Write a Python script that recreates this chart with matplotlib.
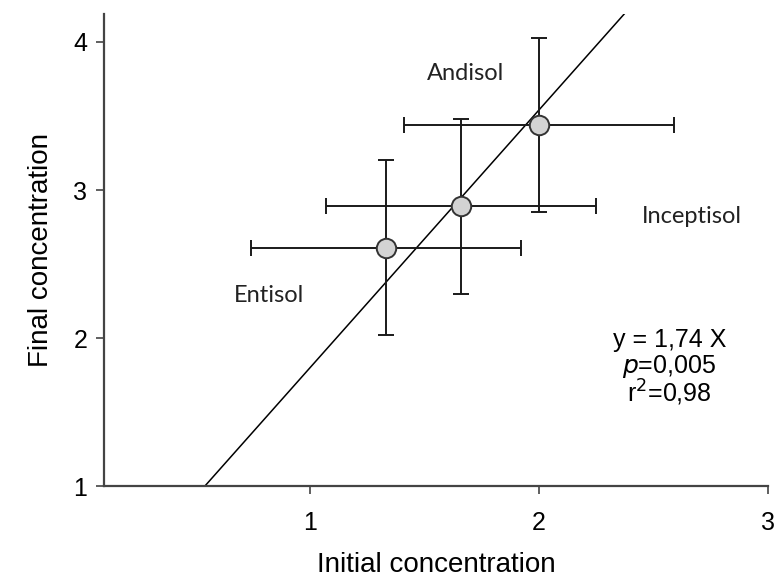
import numpy as np
import matplotlib
matplotlib.use('Agg')
import matplotlib.pyplot as plt

# Dados
soils = ['Entisol', 'Inceptisol', 'Andisol']
initial = [1.33, 1.66, 2.0]
final = [2.61, 2.89, 3.44]
initial_err = [0.59, 0.59, 0.59]
final_err = [0.59, 0.59, 0.59]

# Reta ajustada (como desenhada na figura)
slope = 1.74
intercept = 0.06
line_x = np.array([0.1, 3.0])

x_ticks = [1, 2, 3]
y_ticks = [1, 2, 3, 4]

plt.rcParams['font.family'] = ['Liberation Sans', 'DejaVu Sans']

fig = plt.figure(figsize=(7.77, 5.78), dpi=100)
ax = fig.add_axes([0.134, 0.159, 0.854, 0.817])

ax.plot(line_x, slope * line_x + intercept, color='black', lw=1.1, zorder=2)
ax.errorbar(initial, final, xerr=initial_err, yerr=final_err, fmt='o',
            color='#1a1a1a', ecolor='#1a1a1a', elinewidth=1.4, capsize=6,
            capthick=1.4, markersize=14, markerfacecolor='#d3d3d3',
            markeredgecolor='#333333', markeredgewidth=1.4, zorder=3)

ax.set_xlim(0.1, 3.0)
ax.set_ylim(1, 4.19)
ax.set_xticks(x_ticks)
ax.set_yticks(y_ticks)
ax.tick_params(labelsize=18, length=6, width=1.2, color='#444444', pad=12)
ax.tick_params(axis='y', pad=6)
for s in ['top', 'right']:
    ax.spines[s].set_visible(False)
for s in ['left', 'bottom']:
    ax.spines[s].set_color('#444444')
    ax.spines[s].set_linewidth(1.6)

ax.set_xlabel('Initial concentration', fontsize=20, labelpad=12)
ax.set_ylabel('Final concentration', fontsize=20, labelpad=14)

# Rótulos dos solos
label_pos = {'Andisol': (1.68, 3.79), 'Entisol': (0.82, 2.29), 'Inceptisol': (2.67, 2.82)}
for name in soils:
    lx, ly = label_pos[name]
    ax.text(lx, ly, name, fontsize=17, family='Lato', ha='center', va='center', color='#222222')

ax.text(2.57, 1.99, 'y = 1,74 X', fontsize=18, ha='center', va='center')
ax.text(2.57, 1.81, '$p$=0,005', fontsize=18, ha='center', va='center')
ax.text(2.57, 1.63, 'r$^2$=0,98', fontsize=18, ha='center', va='center')

plt.savefig('out.png', dpi=100)
